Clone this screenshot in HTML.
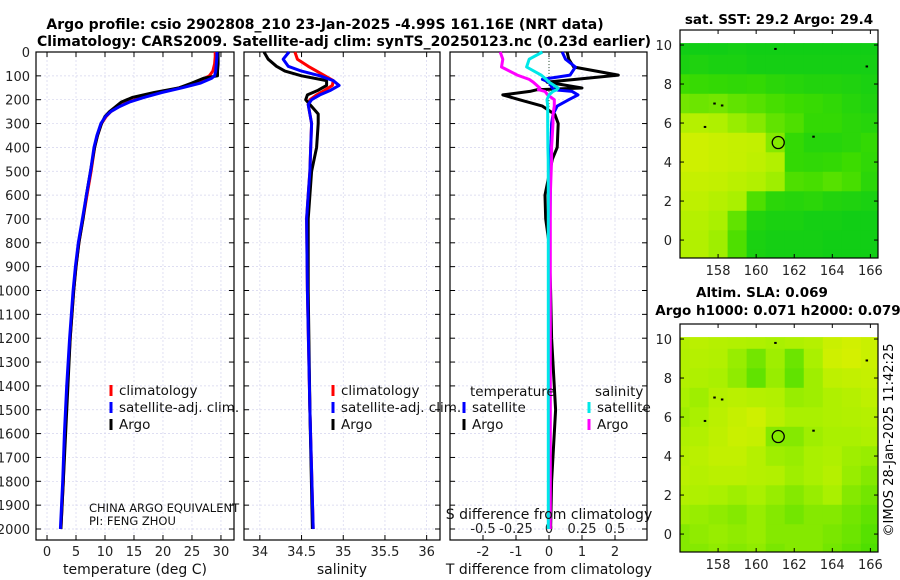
<!DOCTYPE html>
<html><head><meta charset="utf-8">
<style>
html,body{margin:0;padding:0;background:#fff;}
svg{display:block;font-family:"DejaVu Sans","Liberation Sans",sans-serif;}
</style></head>
<body>
<svg id="fig" width="900" height="580" viewBox="0 0 900 580" xmlns="http://www.w3.org/2000/svg">
<text x="325" y="29" font-size="14" font-weight="bold" text-anchor="middle">Argo profile: csio 2902808_210 23-Jan-2025 -4.99S 161.16E (NRT data)</text>
<text x="344" y="46" font-size="14" font-weight="bold" text-anchor="middle">Climatology: CARS2009. Satellite-adj clim: synTS_20250123.nc (0.23d earlier)</text>
<text x="779" y="24" font-size="13.5" font-weight="bold" text-anchor="middle">sat. SST: 29.2 Argo: 29.4</text>
<text x="762" y="297" font-size="13.5" font-weight="bold" text-anchor="middle">Altim. SLA: 0.069</text>
<text x="778" y="315" font-size="13.5" font-weight="bold" text-anchor="middle">Argo h1000: 0.071 h2000: 0.079</text>
<text x="0" y="0" font-size="13" text-anchor="middle" transform="translate(893,440) rotate(-90)">©IMOS 28-Jan-2025 11:42:25</text>
<g id="plots"></g>
</svg>
<script>
// ---------- data ----------
const depthT = [0,20,50,80,100,110,130,150,170,190,210,230,250,270,300,350,400,500,600,700,800,900,1000,1200,1400,1600,1800,2000];
const tempClim = [29.0,29.0,28.9,28.6,28.0,27.2,25.5,22.8,19.5,16.5,14.0,12.3,11.0,10.2,9.4,8.7,8.2,7.6,6.9,6.2,5.5,5.0,4.6,4.0,3.5,3.1,2.8,2.4];
const tempSat  = [29.3,29.3,29.2,29.1,28.9,28.4,26.5,23.3,19.8,16.8,14.2,12.4,11.0,10.1,9.3,8.6,8.1,7.5,6.8,6.1,5.4,4.9,4.5,3.9,3.4,3.0,2.7,2.3];
const tempArgo = [29.5,29.5,29.5,29.4,29.4,27.0,25.0,22.8,18.5,14.8,12.8,11.8,10.8,10.0,9.4,8.7,8.2,7.5,6.8,6.2,5.5,5.0,4.6,4.0,3.6,3.2,2.8,2.4];
const depthS = [0,30,60,80,100,120,140,160,180,200,220,260,300,400,500,600,700,1000,1500,2000];
const salClim = [34.42,34.45,34.58,34.68,34.78,34.88,34.87,34.78,34.68,34.6,34.58,34.6,34.62,34.61,34.6,34.58,34.56,34.57,34.6,34.64];
const salSat  = [34.35,34.28,34.34,34.5,34.72,34.88,34.95,34.85,34.72,34.62,34.58,34.6,34.62,34.61,34.6,34.58,34.56,34.57,34.6,34.64];
const salArgo = [34.05,34.1,34.2,34.3,34.5,34.8,34.8,34.7,34.57,34.55,34.6,34.7,34.7,34.68,34.62,34.6,34.58,34.58,34.6,34.63];
const depthD = [0,30,63,97,115,126,151,158,165,180,200,227,262,300,400,450,600,700,800,1000,1200,1500,1800,2000];
const tDiffArgo = [0.55,0.6,0.75,2.1,0.8,-0.06,1.0,-0.36,-0.58,-1.4,-0.9,-0.2,0.18,0.28,0.25,0.1,-0.12,-0.1,0.0,0.05,0.08,0.2,0.08,0.05];
const tDiffSat  = [0.4,0.5,0.8,0.64,-0.2,0.0,0.1,0.15,0.7,0.88,0.6,0.25,0.12,0.08,0.06,0.05,0.04,0.03,0.03,0.03,0.02,0.02,0.02,0.02];
const sDiffArgo = [-0.37,-0.35,-0.36,-0.24,-0.15,-0.12,-0.07,-0.08,-0.03,-0.01,0.04,0.04,0.03,0.03,0.02,0.02,0.01,0.01,0.01,0.01,0.01,0.01,0.01,0.01];
const sDiffSat  = [-0.05,-0.15,-0.17,-0.06,-0.02,0.0,0.07,0.06,0.03,0.0,-0.015,-0.01,-0.01,-0.01,-0.008,-0.006,-0.005,-0.005,-0.005,-0.005,-0.005,-0.005,-0.005,-0.005];
const depthTicks = [0,100,200,300,400,500,600,700,800,900,1000,1100,1200,1300,1400,1500,1600,1700,1800,1900,2000];
const tempTicks = [0,5,10,15,20,25,30];
const salTicks = [34,34.5,35,35.5,36];
const salTickLabels = ["34","34.5","35","35.5","36"];
const tdTicks = [-2,-1,0,1,2];
const sdTicks = [-0.5,-0.25,0,0.25,0.5];
const sdTickLabels = ["-0.5","-0.25","0","0.25","0.5"];
const lonTicks = [158,160,162,164,166];
const latTicks = [0,2,4,6,8,10];
// map grids: rows lat 10..-1 (1 deg), cols lon 156..166 ; 0=green, 1=yellow
const sstGrid = [
[0.10,0.10,0.10,0.12,0.10,0.10,0.10,0.10,0.10,0.10,0.10],
[0.15,0.18,0.15,0.15,0.12,0.12,0.12,0.12,0.12,0.12,0.12],
[0.35,0.32,0.30,0.28,0.30,0.25,0.22,0.20,0.20,0.18,0.15],
[0.50,0.48,0.50,0.45,0.42,0.38,0.35,0.32,0.28,0.22,0.18],
[0.70,0.72,0.68,0.60,0.55,0.45,0.40,0.30,0.30,0.25,0.22],
[0.88,0.88,0.85,0.82,0.80,0.55,0.30,0.22,0.22,0.25,0.30],
[0.88,0.88,0.85,0.82,0.78,0.70,0.30,0.28,0.30,0.35,0.28],
[0.82,0.82,0.80,0.75,0.70,0.62,0.40,0.38,0.42,0.38,0.25],
[0.78,0.78,0.72,0.65,0.40,0.25,0.22,0.25,0.20,0.18,0.15],
[0.72,0.72,0.65,0.45,0.20,0.15,0.15,0.12,0.12,0.10,0.10],
[0.70,0.70,0.62,0.40,0.15,0.12,0.12,0.12,0.10,0.10,0.10],
[0.70,0.72,0.62,0.40,0.15,0.12,0.12,0.12,0.10,0.10,0.10]];
const slaGrid = [
[0.72,0.75,0.72,0.70,0.68,0.65,0.68,0.72,0.85,0.90,0.85],
[0.70,0.72,0.70,0.60,0.50,0.62,0.48,0.65,0.88,0.92,0.85],
[0.70,0.68,0.65,0.58,0.45,0.60,0.45,0.62,0.78,0.80,0.82],
[0.65,0.62,0.72,0.75,0.72,0.70,0.60,0.62,0.68,0.72,0.78],
[0.62,0.65,0.75,0.82,0.88,0.75,0.65,0.65,0.68,0.70,0.72],
[0.68,0.70,0.78,0.85,0.82,0.55,0.55,0.62,0.65,0.65,0.68],
[0.72,0.75,0.80,0.80,0.72,0.62,0.60,0.65,0.68,0.62,0.60],
[0.75,0.72,0.75,0.75,0.72,0.70,0.62,0.65,0.72,0.60,0.55],
[0.70,0.68,0.65,0.62,0.65,0.60,0.55,0.60,0.65,0.55,0.50],
[0.62,0.60,0.58,0.55,0.60,0.55,0.50,0.55,0.55,0.50,0.45],
[0.55,0.58,0.60,0.58,0.60,0.55,0.55,0.55,0.52,0.48,0.42],
[0.55,0.55,0.58,0.55,0.58,0.52,0.55,0.55,0.50,0.45,0.40]];
const floatLon = 161.16;
const floatLat = 5.0;

// ---------- helpers ----------
const NS = "http://www.w3.org/2000/svg";
const root = document.getElementById('plots');
function mk(tag, attrs, parent){
  const e = document.createElementNS(NS, tag);
  for (const k in attrs) e.setAttribute(k, attrs[k]);
  (parent||root).appendChild(e);
  return e;
}
const top0 = 52, pxPerM = 0.2385, bottom = 540;
const yD = d => top0 + d*pxPerM;

function panel(name, x0, x1, xmin, xmax){
  const xs = v => x0 + (v - xmin)/(xmax - xmin)*(x1 - x0);
  const g = mk('g', {});
  
  
  return {g, xs, x0, x1};
}
function gridAndFrame(p, xticks, labels, labY, nameBase){
  const g = p.g;
  depthTicks.forEach(d=>{
    const l = mk('line',{x1:p.x0,x2:p.x1,y1:yD(d),y2:yD(d),stroke:'#d4d4ee','stroke-width':0.7,'stroke-dasharray':'2,2'},g);
    
    
    mk('line',{x1:p.x0,x2:p.x0+5,y1:yD(d),y2:yD(d),stroke:'#000'},g);
    mk('line',{x1:p.x1-5,x2:p.x1,y1:yD(d),y2:yD(d),stroke:'#000'},g);
  });
  xticks.forEach((t,i)=>{
    const x = p.xs(t);
    const l = mk('line',{x1:x,x2:x,y1:top0,y2:bottom,stroke:'#d4d4ee','stroke-width':0.7,'stroke-dasharray':'2,2'},g);
    
    
    mk('line',{x1:x,x2:x,y1:top0,y2:top0+5,stroke:'#000'},g);
    mk('line',{x1:x,x2:x,y1:bottom-5,y2:bottom,stroke:'#000'},g);
    if (labels){
      const t2 = mk('text',{x:x,y:labY,'font-size':13,'text-anchor':'middle',fill:'#222'},g);
      
      
      t2.textContent = labels[i];
    }
  });
  const f = mk('rect',{x:p.x0,y:top0,width:p.x1-p.x0,height:bottom-top0,fill:'none',stroke:'#000','stroke-width':1.2},g);
  
  
}
function line(p, xsArr, ds, color, name, w){
  const pts = xsArr.map((v,i)=>p.xs(v).toFixed(1)+','+yD(ds[i]).toFixed(1)).join(' ');
  const e = mk('polyline',{points:pts,fill:'none',stroke:color,'stroke-width':w||3,'stroke-linejoin':'round'},p.g);
  
  
}
function txt(s,x,y,size,anchor,name,g){
  const e = mk('text',{x:x,y:y,'font-size':size,'text-anchor':anchor||'start',fill:'#111'},g);
  
  
  e.textContent = s;
  return e;
}
function legend(g, x, y, items){
  items.forEach((it,i)=>{
    const yy = y + i*17;
    const m = mk('line',{x1:x,x2:x,y1:yy-6,y2:yy+5,stroke:it[1],'stroke-width':3},g);
    
    
    txt(it[0], x+8, yy+4, 13.5, 'start', 'legend-entry', g);
  });
}

depthTicks.forEach(d=>{
  const t = txt(String(d), 30, yD(d)+5, 13, 'end', 'depth-tick-label');
  t.setAttribute('fill','#222');
});

// ---------- panel 1: temperature ----------
const p1 = panel('temperature-panel', 36, 234, -1.9, 32.25);
gridAndFrame(p1, tempTicks, tempTicks.map(String), 556, 'temperature');
line(p1, tempClim, depthT, '#ff0000', 'temp-climatology-line');
line(p1, tempArgo, depthT, '#000000', 'temp-argo-line');
line(p1, tempSat, depthT, '#0000ff', 'temp-satellite-line');
txt('temperature (deg C)', 135, 574, 14, 'middle', 'temperature-axis-title');
legend(p1.g, 111, 391, [['climatology','#ff0000'],['satellite-adj. clim.','#0000ff'],['Argo','#000']]);
txt('CHINA ARGO EQUIVALENT', 89, 512, 11.5, 'start', 'institution-label', p1.g);
txt('PI: FENG ZHOU', 89, 525, 11.5, 'start', 'pi-label', p1.g);

// ---------- panel 2: salinity ----------
const p2 = panel('salinity-panel', 244, 440, 33.81, 36.16);
gridAndFrame(p2, salTicks, salTickLabels, 556, 'salinity');
line(p2, salClim, depthS, '#ff0000', 'sal-climatology-line');
line(p2, salArgo, depthS, '#000000', 'sal-argo-line');
line(p2, salSat, depthS, '#0000ff', 'sal-satellite-line');
txt('salinity', 342, 574, 14, 'middle', 'salinity-axis-title');
legend(p2.g, 333, 391, [['climatology','#ff0000'],['satellite-adj. clim.','#0000ff'],['Argo','#000']]);

// ---------- panel 3: differences ----------
const p3 = panel('difference-panel', 450, 647, -3.0, 2.97);
gridAndFrame(p3, tdTicks, tdTicks.map(String), 556, 't-difference');
const p3s = {g:p3.g, x0:450, x1:647, xs: v => 549 + v*132};
sdTicks.forEach((t,i)=>{
  const e = txt(sdTickLabels[i], p3s.xs(t), 533, 13, 'middle', 's-difference-tick-label', p3.g);
  e.setAttribute('fill','#222');
});
const zl = mk('line',{x1:549,x2:549,y1:top0,y2:yD(250),stroke:'#335533','stroke-width':1,'stroke-dasharray':'1,2'},p3.g);


line(p3, tDiffArgo, depthD, '#000000', 't-diff-argo-line');
line(p3, tDiffSat, depthD, '#0000ff', 't-diff-satellite-line');
line(p3s, sDiffArgo, depthD, '#ff00ff', 's-diff-argo-line');
line(p3s, sDiffSat, depthD, '#00e8e8', 's-diff-satellite-line');
txt('S difference from climatology', 549, 519, 14, 'middle', 's-difference-axis-title', p3.g);
txt('T difference from climatology', 549, 574, 14, 'middle', 't-difference-axis-title', p3.g);
txt('temperature', 470, 396, 13.5, 'start', 'legend-temperature-heading', p3.g);
txt('salinity', 595, 396, 13.5, 'start', 'legend-salinity-heading', p3.g);
legend(p3.g, 464, 408, [['satellite','#0000ff'],['Argo','#000']]);
legend(p3.g, 589, 408, [['satellite','#00e8e8'],['Argo','#ff00ff']]);

// ---------- maps ----------
const cstops = [[0,[0,200,30]],[0.35,[60,220,0]],[0.65,[170,240,0]],[1,[225,240,0]]];
function cmap(v){
  for (let i=0;i<cstops.length-1;i++){
    const a=cstops[i], b=cstops[i+1];
    if (v<=b[0]){
      const f=(v-a[0])/(b[0]-a[0]);
      const c=a[1].map((x,j)=>Math.round(x+(b[1][j]-x)*f));
      return 'rgb('+c.join(',')+')';
    }
  }
  return 'rgb(225,240,0)';
}
function map(name, yTop, grid){
  const x0=680, x1=878, y0=yTop, y1=yTop+228;
  const lonMin=156.0, lonMax=166.4, latMax=10.77, latMin=-0.92;
  const xs = lo => x0 + (lo-lonMin)/(lonMax-lonMin)*(x1-x0);
  const ys = la => y0 + (latMax-la)/(latMax-latMin)*(y1-y0);
  const g = mk('g',{});
  
  
  grid.forEach((row,r)=>{
    row.forEach((v,c)=>{
      const latT = Math.min(10.1, 10.5 - r), latB = Math.max(latMin, 9.5 - r);
      const loL = Math.max(lonMin, 155.5 + c), loR = Math.min(lonMax, 156.5 + c);
      const cell = mk('rect',{x:xs(loL),y:ys(latT),width:xs(loR)-xs(loL)+0.5,height:ys(latB)-ys(latT)+0.5,fill:cmap(v)},g);
      
      
    });
  });
  const pt = mk('circle',{cx:xs(floatLon),cy:ys(floatLat),r:6,fill:'none',stroke:'#000','stroke-width':1.3},g);
  
  
  [[158.2,6.9],[157.8,7.0],[163.0,5.3],[157.3,5.8],[161.0,9.8],[165.8,8.9]].forEach(p=>{
    const d = mk('rect',{x:xs(p[0])-1,y:ys(p[1])-1,width:2.5,height:2,fill:'#000'},g);
    
    
  });
  const fr = mk('rect',{x:x0,y:y0,width:x1-x0,height:y1-y0,fill:'none',stroke:'#000','stroke-width':1.2},g);
  
  
  lonTicks.forEach(t=>{
    mk('line',{x1:xs(t),x2:xs(t),y1:y1,y2:y1-4,stroke:'#000'},g);
    mk('line',{x1:xs(t),x2:xs(t),y1:y0,y2:y0+4,stroke:'#000'},g);
    const e = txt(String(t), xs(t), y1+17, 13, 'middle', 'lon-tick-label', g); e.setAttribute('fill','#222');
  });
  latTicks.forEach(t=>{
    mk('line',{x1:x0,x2:x0+4,y1:ys(t),y2:ys(t),stroke:'#000'},g);
    mk('line',{x1:x1,x2:x1-4,y1:ys(t),y2:ys(t),stroke:'#000'},g);
    const e = txt(String(t), x0-8, ys(t)+5, 13, 'end', 'lat-tick-label', g); e.setAttribute('fill','#222');
  });
}
map('sst-map', 30, sstGrid);
map('sla-map', 324, slaGrid);
</script>
</body></html>
